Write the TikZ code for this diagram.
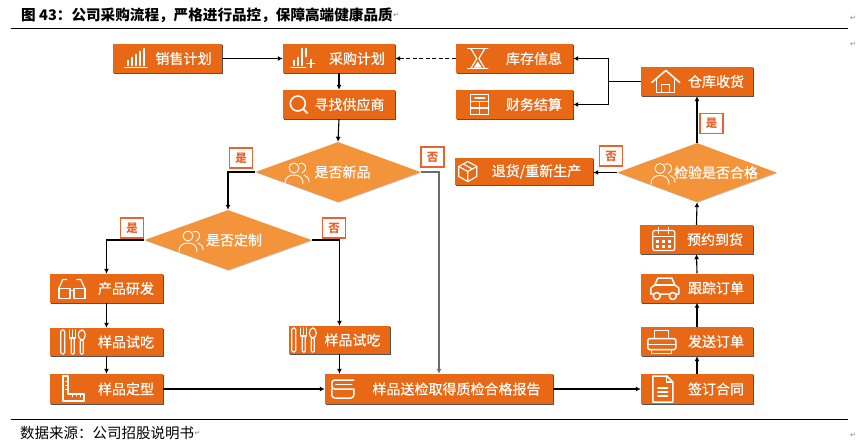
\documentclass[tikz,border=0pt]{standalone}
\usepackage{fontspec}
\newfontfamily\cjk{Noto Sans CJK SC}
\newfontfamily\cjkm{Noto Sans CJK SC}[FakeBold=0.6]
\newfontfamily\symf{DejaVu Sans}
\usetikzlibrary{shapes.geometric,arrows.meta,shadows,calc}
\definecolor{boxor}{RGB}{232,104,22}
\definecolor{diaor}{RGB}{243,147,58}
\definecolor{lblor}{RGB}{230,100,45}
\tikzset{
  procbox/.style={fill=boxor, text=white, font=\cjkm\fontsize{14}{16}\selectfont, inner sep=0pt,
    minimum height=29, drop shadow={shadow xshift=1.3pt, shadow yshift=-1.3pt, fill=black!75, opacity=0.9}},
  dia/.style={shape=diamond, fill=diaor, text=white, font=\cjkm\fontsize{14}{16}\selectfont, inner sep=0pt,
    drop shadow={shadow xshift=0.8pt, shadow yshift=-0.8pt, fill=black!40, opacity=0.6}},
  lbl/.style={draw=lblor, line width=1.3pt, fill=white, text=lblor, font=\cjk\bfseries\fontsize{11.5}{11.5}\selectfont,
    minimum width=23, minimum height=20, inner sep=0pt},
  arr/.style={draw=black, line width=1.1pt, -{Latex[length=5pt,width=5pt]}},
  plain/.style={draw=black, line width=1.1pt},
  arrg/.style={draw=gray!85!black, line width=1.1pt, -{Latex[length=5pt,width=5pt]}},
  pmark/.style={text=gray, font=\symf\fontsize{7}{7}\selectfont, inner sep=0pt},
  ic/.style={draw=white, line width=1.2pt, line cap=round, line join=round},
  pics/ibars/.style={code={
    \draw[ic] (-11,9)--(11,9);
    \draw[ic,line width=1.6pt] (-8,7)--(-8,2) (-4,7)--(-4,-1) (0,7)--(0,-4) (4,7)--(4,-7) (8,7)--(8,-10);
  }},
  pics/ibarsplus/.style={code={
    \draw[ic] (-12,9)--(3,9);
    \draw[ic,line width=1.6pt] (-9,7)--(-9,2) (-5,7)--(-5,-1) (-1,7)--(-1,-10) (3,-10)--(3,-2);
    \draw[ic,line width=1.4pt] (8,1)--(8,9) (4,5)--(12,5);
  }},
  pics/imag/.style={code={
    \draw[ic,line width=1.6pt] (-1,-1) circle (7.5);
    \draw[ic,line width=2pt] (4.5,4.5)--(8.5,8.5);
  }},
  pics/ihour/.style={code={
    \draw[ic,line width=1.5pt] (-10,-10)--(10,-10) (-10,10)--(10,10);
    \draw[ic] (-7,-10)--(-1,0)--(-7,10) (7,-10)--(1,0)--(7,10);
    \fill[white] (-4,9)--(0,3)--(4,9)--cycle;
  }},
  pics/igrid/.style={code={
    \draw[ic] (-9,-10) rectangle (9,10);
    \draw[ic] (-9,-3)--(9,-3) (0,-3)--(0,10) (-9,3.5)--(9,3.5);
    \draw[ic] (-5,-6.5)--(5,-6.5);
  }},
  pics/ihouse/.style={code={
    \draw[ic,line width=1.6pt] (-14,1)--(0,-11)--(14,1);
    \draw[ic] (-9,-3)--(-9,11)--(9,11)--(9,-3);
    \draw[ic] (-4,11)--(-4,3)--(4,3)--(4,11);
  }},
  pics/icube/.style={code={
    \draw[ic] (0,-10)--(9,-5)--(9,5)--(0,10)--(-9,5)--(-9,-5)--cycle;
    \draw[ic] (-9,-5)--(0,0)--(9,-5) (0,0)--(0,10) (-4.5,-7.5)--(4.5,-2.5);
  }},
  pics/icalendar/.style={code={
    \draw[ic,rounded corners=2pt] (-11,-9) rectangle (11,11);
    \draw[ic] (-11,-3)--(11,-3);
    \draw[ic] (-5,-12)--(-5,-6) (5,-12)--(5,-6);
    \foreach \i in {-6,0,6}{\foreach \j in {2,7}{\fill[white] (\i-1.5,\j-1.5) rectangle (\i+1.5,\j+1.5);}}
  }},
  pics/icar/.style={code={
    \draw[ic,line width=1.5pt] (-14,6)--(-14,0)--(-10,-3)--(-7,-10)--(7,-10)--(10,-3)--(14,0)--(14,6)--cycle;
    \draw[ic] (-10,-3)--(10,-3);
    \draw[ic,fill=boxor,line width=1.5pt] (-8,8) circle (3.5) (8,8) circle (3.5);
  }},
  pics/iprinter/.style={code={
    \draw[ic] (-7,-3)--(-7,-11)--(7,-11)--(7,-3);
    \draw[ic,line width=1.5pt,rounded corners=1.5pt] (-14,-3) rectangle (14,8);
    \draw[ic] (-14,3)--(14,3);
    \draw[ic] (-10,8)--(-10,12)--(10,12)--(10,8);
  }},
  pics/idoc/.style={code={
    \draw[ic,line width=1.5pt] (-10,-13)--(4,-13)--(10,-7)--(10,13)--(-10,13)--cycle;
    \draw[ic] (4,-13)--(4,-7)--(10,-7);
    \draw[ic] (-5,-1)--(5,-1) (-5,3)--(5,3) (-5,7)--(5,7);
  }},
  pics/iglasses/.style={code={
    \draw[ic,line width=1.5pt] (-13,0) rectangle (-2,10) (2,0) rectangle (13,10);
    \draw[ic] (-2,2)--(2,2);
    \draw[ic] (-13,0)--(-9,-9)--(-5,-9) (13,0)--(9,-9)--(5,-9);
  }},
  pics/iutensils/.style={code={
    \draw[ic,rounded corners=1.5pt] (-12,-12) rectangle (-8,12);
    \draw[ic] (-3,-12)--(-3,-4)--(3,-4)--(3,-12) (0,-12)--(0,-4);
    \draw[ic,rounded corners=1pt] (-1.5,-4) rectangle (1.5,12);
    \draw[ic] (9,-7) ellipse [x radius=3.5, y radius=5];
    \draw[ic,rounded corners=1pt] (7.5,-2) rectangle (10.5,12);
  }},
  pics/iruler/.style={code={
    \draw[ic,line width=1.4pt] (-10,-13)--(-5,-13)--(-5,5)--(11,5)--(11,12)--(-10,12)--cycle;
    \draw[ic,line width=0.8pt] (-5,-8)--(-7.5,-8) (-5,-4)--(-7,-4) (-5,0)--(-7.5,0) (0,5)--(0,8) (4,5)--(4,7) (8,5)--(8,8);
  }},
  pics/itray/.style={code={
    \draw[ic,line width=1.5pt,rounded corners=3pt] (11,-9)--(-11,-9)--(-11,0)--(11,0);
    \draw[ic,line width=1.5pt,rounded corners=3pt] (-11,0)--(-11,9)--(11,9)--(11,0);
    \draw[ic] (-7,-4.5)--(9,-4.5);
  }},
  pics/iheads/.style={code={
    \draw[ic,line width=0.9pt] (-3,-4) circle (5);
    \draw[ic,line width=0.9pt] (-12,12) .. controls (-12,5) and (-8,3) .. (-3,3) .. controls (2,3) and (6,5) .. (6,12);
    \draw[ic,line width=0.9pt] (2,-8) .. controls (8,-11) and (12,-3) .. (5,1);
    \draw[ic,line width=0.9pt] (7,3) .. controls (10,4) and (12,6) .. (12,10);
  }},
}
\begin{document}
\begin{tikzpicture}[x=1pt,y=-1pt]
\useasboundingbox[fill=white] (0,0) rectangle (859,447);

% title and rules
\node[anchor=west, font=\cjk\bfseries\fontsize{14.6}{17}\selectfont, inner sep=0pt] (title) at (21,15) {图 43：公司采购流程，严格进行品控，保障高端健康品质};
\node[pmark, anchor=west] (m1) at (title.east) {↵};
\node[pmark] (m2) at (853,18) {↵};
\node[pmark] (m3) at (853,44) {↵};
\coordinate (rt1) at (11,28);
\coordinate (rt2) at (848,28);
\draw[black, line width=0.9pt] (rt1) -- (rt2);
\coordinate (rb1) at (11,419);
\coordinate (rb2) at (848,419);
\draw[black, line width=0.9pt] (rb1) -- (rb2);
\node[anchor=west, font=\cjk\fontsize{14.5}{16}\selectfont, inner sep=0pt] (src) at (20,433) {数据来源：公司招股说明书};
\node[pmark, anchor=west] (m4) at (src.east) {↵};
\node[pmark] (m5) at (853,435) {↵};

% process boxes
\node[procbox, minimum width=109] (xs) at (167.5,58.5) {\hspace*{32pt}销售计划};
\node[procbox, minimum width=112] (cg) at (339,58.5) {\hspace*{36pt}采购计划};
\node[procbox, minimum width=112] (xz) at (339,104.5) {\hspace*{21pt}寻找供应商};
\node[procbox, minimum width=117] (kc) at (514.5,58.5) {\hspace*{39pt}库存信息};
\node[procbox, minimum width=117] (cw) at (514.5,104.5) {\hspace*{39pt}财务结算};
\node[procbox, minimum width=112] (ck) at (697,81.5) {\hspace*{38pt}仓库收货};
\node[procbox, minimum width=138, minimum height=27] (th) at (524,171.5) {\hspace*{25pt}退货/重新生产};
\node[procbox, minimum width=113] (yy) at (696.5,239.5) {\hspace*{37pt}预约到货};
\node[procbox, minimum width=112] (gz) at (697,288) {\hspace*{38pt}跟踪订单};
\node[procbox, minimum width=112] (fs) at (697,341.5) {\hspace*{38pt}发送订单};
\node[procbox, minimum width=112, minimum height=30] (qd) at (697,389) {\hspace*{38pt}签订合同};
\node[procbox, minimum width=113] (cp) at (106.5,288.5) {\hspace*{39pt}产品研发};
\node[procbox, minimum width=113, minimum height=28] (st1) at (106.5,342) {\hspace*{39pt}样品试吃};
\node[procbox, minimum width=113, minimum height=30] (dx) at (106.5,389) {\hspace*{39pt}样品定型};
\node[procbox, minimum width=101, minimum height=28] (st2) at (339.5,340) {\hspace*{26pt}样品试吃};
\node[procbox, minimum width=228, minimum height=30] (sj) at (439,389) {\hspace*{35pt}样品送检取得质检合格报告};

% decision diamonds
\node[dia, minimum width=165, minimum height=60] (d1) at (338,172) {\makebox[0pt]{\hspace*{9pt}是否新品}};
\node[dia, minimum width=167, minimum height=60] (d2) at (228,240) {\makebox[0pt]{\hspace*{12pt}是否定制}};
\node[dia, minimum width=159, minimum height=59] (d3) at (697,172.5) {\makebox[0pt]{\hspace*{38pt}检验是否合格}};

% icons
\pic at ($(xs.west)+(23,0)$) {ibars};
\pic at ($(cg.west)+(20,0)$) {ibarsplus};
\pic at ($(xz.west)+(16,0)$) {imag};
\pic at ($(kc.west)+(22,0)$) {ihour};
\pic at ($(cw.west)+(24,0)$) {igrid};
\pic at ($(ck.west)+(25,0)$) {ihouse};
\pic at ($(th.west)+(13,0)$) {icube};
\pic at ($(yy.west)+(24,0)$) {icalendar};
\pic at ($(gz.west)+(24,0)$) {icar};
\pic at ($(fs.west)+(21,0)$) {iprinter};
\pic at ($(qd.west)+(22,0)$) {idoc};
\pic at ($(cp.west)+(22,0)$) {iglasses};
\pic at ($(st1.west)+(23,0)$) {iutensils};
\pic at ($(dx.west)+(23,0)$) {iruler};
\pic at ($(st2.west)+(15,0)$) {iutensils};
\pic at ($(sj.west)+(18,0)$) {itray};
\pic at ($(d1.center)+(-41,0)$) {iheads};
\pic at ($(d2.center)+(-37,0)$) {iheads};
\pic at ($(d3.center)+(-34,0)$) {iheads};

% labels
\node[lbl] (l1) at (241,158) {是};
\node[lbl] (l2) at (432.5,157) {否};
\node[lbl] (l3) at (132,228) {是};
\node[lbl] (l4) at (334,228) {否};
\node[lbl] (l5) at (611,156) {否};
\node[lbl] (l6) at (711.5,123.5) {是};

% connectors
\draw[arr] (xs.east) -- (cg.west);
\draw[arr, line width=1.2pt, dash pattern=on 4pt off 2.5pt] (kc.west) -- (cg.east);
\draw[arr] (cg.south) -- (xz.north);
\draw[arr] (xz.south) -- (d1.north);
\draw[arr] (d1.west) -| (d2.north);
\draw[arrg] (d1.east) -| (sj.north);
\draw[arr] (d2.west) -| (cp.north);
\draw[arr] (d2.east) -| (st2.north);
\draw[arr] (cp.south) -- (st1.north);
\draw[arr] (st1.south) -- (dx.north);
\draw[arr] (dx.east) -- (sj.west);
\draw[arr] (st2.south) -- (st2.south |- sj.north);
\draw[arr] (sj.east) -- (qd.west);
\draw[arr] (qd.north) -- (fs.south);
\draw[arr] (fs.north) -- (gz.south);
\draw[arr] (gz.north) -- (yy.south);
\draw[arr] (yy.north) -- (d3.south);
\draw[arr] (d3.north) -- (ck.south);
\draw[arr] (d3.west) -- (d3.west -| th.east);
\coordinate (jn) at ($(ck.west)+(-32,0)$);
\draw[plain] (ck.west) -- (jn);
\draw[arr] (jn) |- (kc.east);
\draw[arr] (jn) |- (cw.east);
\end{tikzpicture}
\end{document}
